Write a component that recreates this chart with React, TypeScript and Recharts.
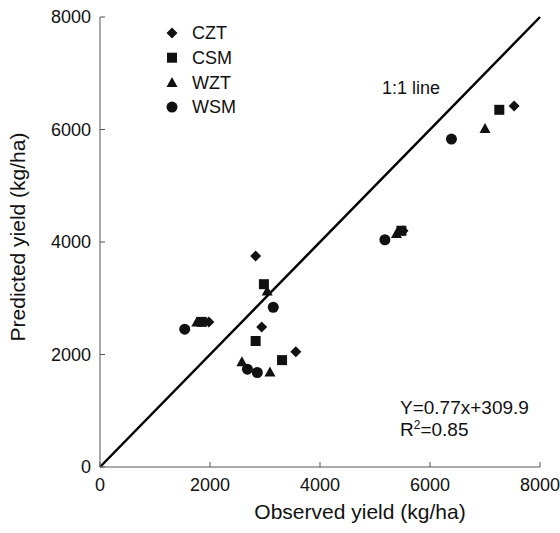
import React from "react"
import {
  ScatterChart,
  Scatter,
  XAxis,
  YAxis,
  ReferenceLine,
} from "recharts"

// observed (x) vs predicted (y) yield, kg/ha
const cztObserved = [2830, 1980, 2940, 3560, 7530, 5510]
const cztPredicted = [3750, 2580, 2490, 2050, 6420, 4200]
const csmObserved = [2980, 1850, 2830, 3310, 7260, 5480]
const csmPredicted = [3250, 2580, 2240, 1900, 6350, 4200]
const wztObserved = [3040, 1760, 2580, 3090, 7000, 5390]
const wztPredicted = [3130, 2580, 1870, 1690, 6020, 4150]
const wsmObserved = [3150, 1540, 2680, 2860, 6390, 5180]
const wsmPredicted = [2840, 2450, 1740, 1680, 5830, 4040]

const axisTicks = [0, 2000, 4000, 6000, 8000]
const seriesNames = ["CZT", "CSM", "WZT", "WSM"]

const toPoints = (xs: number[], ys: number[]) => xs.map((x, i) => ({ x, y: ys[i] }))

const FONT = "'Liberation Sans', Arial, sans-serif"
const INK = "#111"

const Diamond = ({ cx, cy }: any) => (
  <path d={`M${cx},${cy - 5.5}L${cx + 5.5},${cy}L${cx},${cy + 5.5}L${cx - 5.5},${cy}Z`} fill={INK} />
)
const Square = ({ cx, cy }: any) => <rect x={cx - 5} y={cy - 5} width={10} height={10} fill={INK} />
const Triangle = ({ cx, cy }: any) => (
  <path d={`M${cx},${cy - 5.5}L${cx + 5.5},${cy + 4.5}L${cx - 5.5},${cy + 4.5}Z`} fill={INK} />
)
const Circle = ({ cx, cy }: any) => <circle cx={cx} cy={cy} r={5.5} fill={INK} />

const shapes: Record<string, (p: any) => React.ReactElement> = {
  CZT: Diamond,
  CSM: Square,
  WZT: Triangle,
  WSM: Circle,
}

// legend drawn as a plain svg group so it takes no room from the plot
const LegendBox = ({ x, y }: { x: number; y: number }) => (
  <g transform={`translate(${x},${y})`}>
    {seriesNames.map((name, i) => {
      const Shape = shapes[name]
      const cy = i * 24.7
      return (
        <g key={name}>
          <Shape cx={0} cy={cy} />
          <text x={20} y={cy} dy="0.35em" fontSize={18} fill={INK} fontFamily={FONT}>
            {name}
          </text>
        </g>
      )
    })}
  </g>
)

export default function App() {
  return (
    <div style={{ position: "absolute", left: 0, top: 0, width: 560, height: 533, background: "#fff", fontFamily: FONT }}>
      <ScatterChart width={560} height={533} margin={{ top: 17, right: 20, bottom: 0, left: 0 }}>
        <XAxis
          type="number"
          dataKey="x"
          domain={[0, 8000]}
          ticks={axisTicks}
          height={66}
          tickSize={-5}
          tickMargin={16}
          stroke="#555"
          tick={{ fontSize: 18, fill: INK, fontFamily: FONT }}
        />
        <YAxis
          type="number"
          dataKey="y"
          domain={[0, 8000]}
          ticks={axisTicks}
          width={100}
          tickSize={-5}
          tickMargin={14}
          stroke="#555"
          tick={{ fontSize: 18, fill: INK, fontFamily: FONT }}
        />
        <ReferenceLine
          segment={[{ x: 0, y: 0 }, { x: 8000, y: 8000 }]}
          stroke="#000"
          strokeWidth={2.5}
          ifOverflow="visible"
        />
        <Scatter name="CZT" data={toPoints(cztObserved, cztPredicted)} shape={Diamond} isAnimationActive={false} />
        <Scatter name="CSM" data={toPoints(csmObserved, csmPredicted)} shape={Square} isAnimationActive={false} />
        <Scatter name="WZT" data={toPoints(wztObserved, wztPredicted)} shape={Triangle} isAnimationActive={false} />
        <Scatter name="WSM" data={toPoints(wsmObserved, wsmPredicted)} shape={Circle} isAnimationActive={false} />
        <LegendBox x={172} y={33} />
        <text x={382} y={88} dy="0.35em" fontSize={18} fill={INK} fontFamily={FONT}>
          1:1 line
        </text>
        <text x={400} y={407} dy="0.35em" fontSize={19} fill={INK} fontFamily={FONT}>
          Y=0.77x+309.9
        </text>
        <text x={400} y={429} dy="0.35em" fontSize={19} fill={INK} fontFamily={FONT}>
          R<tspan dy="-7" fontSize={12}>2</tspan>
          <tspan dy="7">=0.85</tspan>
        </text>
        <text
          x={18}
          y={237}
          transform="rotate(-90 18 237)"
          textAnchor="middle"
          dy="0.35em"
          fontSize={21}
          fill={INK}
          fontFamily={FONT}
        >
          Predicted yield (kg/ha)
        </text>
        <text x={360} y={512} textAnchor="middle" dy="0.35em" fontSize={21} fill={INK} fontFamily={FONT}>
          Observed yield (kg/ha)
        </text>
      </ScatterChart>
    </div>
  )
}
